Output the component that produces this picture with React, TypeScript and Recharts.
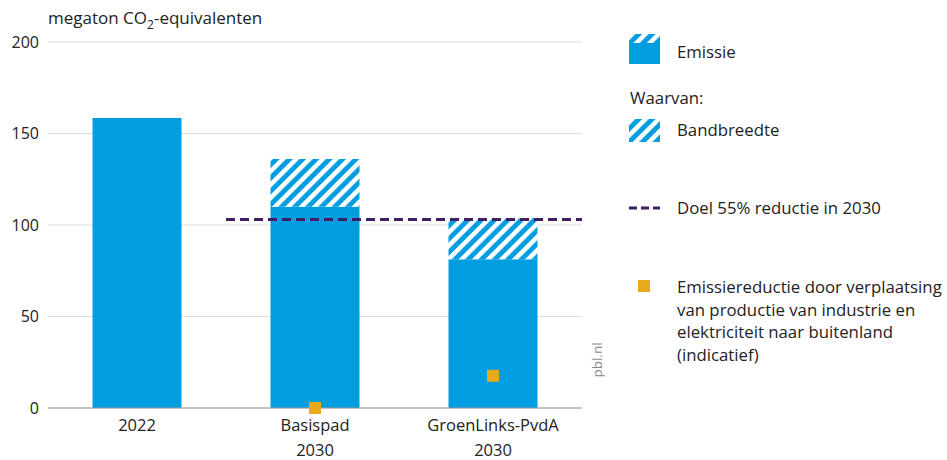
import React from "react";
import {
  ComposedChart,
  Bar,
  Scatter,
  XAxis,
  YAxis,
  CartesianGrid,
  ReferenceLine,
} from "recharts";

const categories = ["2022", "Basispad", "GroenLinks-PvdA"];
const categorySubLabels = ["", "2030", "2030"];
const emissieBase = [158.5, 110, 81.3];
const bandbreedte = [0, 26, 22.5];
const verplaatsing: (number | null)[] = [null, 0, 17.6];
const doelValue = 103;
const doelFromCategory = 1;
const yTicks = [0, 50, 100, 150, 200];

const BLUE = "#009EE0";
const ORANGE = "#E8A91B";
const PURPLE = "#3F1E63";
const TEXT = "#222222";
const FONT = "'Open Sans', 'Noto Sans', sans-serif";

// category slots on a numeric axis: slot i spans [i, i+1], centre at i + 0.5
const data = categories.map((c, i) => ({
  name: c,
  slot: i + 0.5,
  base: emissieBase[i],
  band: bandbreedte[i],
  shift: verplaatsing[i],
}));
const slotTicks = data.map((d) => d.slot);

const XTick = (props: any) => {
  const { x, y, index } = props;
  const main = categories[index];
  const sub = categorySubLabels[index];
  return (
    <g transform={`translate(${x},${y})`}>
      <text x={0} y={0} dy={15} textAnchor="middle" fill={TEXT} fontSize={16.5} fontFamily={FONT}>
        {main}
      </text>
      {sub ? (
        <text x={0} y={0} dy={40} textAnchor="middle" fill={TEXT} fontSize={16.5} fontFamily={FONT}>
          {sub}
        </text>
      ) : null}
    </g>
  );
};

const SquareShape = (props: any) => {
  const { cx, cy } = props;
  if (cx == null || cy == null || isNaN(cy)) return null;
  return <rect x={cx - 6} y={cy - 6} width={12} height={12} fill={ORANGE} />;
};

const HatchSwatch = ({ w, h, full }: { w: number; h: number; full?: boolean }) => (
  <svg width={w} height={h} style={{ display: "block" }}>
    <defs>
      <pattern id={`lg-hatch-${full ? "a" : "b"}`} patternUnits="userSpaceOnUse" width={9.4} height={9.4} patternTransform="rotate(45)">
        <rect x={0} y={0} width={9.4} height={9.4} fill={BLUE} />
        <rect x={0} y={0} width={4.5} height={9.4} fill="#ffffff" />
      </pattern>
    </defs>
    {full ? (
      <>
        <rect x={0} y={0} width={w} height={9} fill={`url(#lg-hatch-a)`} />
        <rect x={0} y={9} width={w} height={h - 9} fill={BLUE} />
      </>
    ) : (
      <rect x={0} y={0} width={w} height={h} fill={`url(#lg-hatch-b)`} />
    )}
  </svg>
);

const legendText: React.CSSProperties = {
  position: "absolute",
  left: 677,
  fontFamily: FONT,
  fontSize: 16.8,
  color: TEXT,
  lineHeight: "22.5px",
  whiteSpace: "nowrap",
};

export default function App() {
  return (
    <div style={{ position: "absolute", left: 0, top: 0, width: 947, height: 460, background: "#fff" }}>
      <ComposedChart
        width={947}
        height={460}
        data={data}
        margin={{ top: 42, right: 365, bottom: 22, left: 0 }}
        barCategoryGap="25%"
      >
        <defs>
          <pattern id="hatch" patternUnits="userSpaceOnUse" width={9.4} height={9.4} patternTransform="rotate(45)">
            <rect x={0} y={0} width={9.4} height={9.4} fill={BLUE} />
            <rect x={0} y={0} width={4.5} height={9.4} fill="#ffffff" />
          </pattern>
        </defs>
        <CartesianGrid vertical={false} stroke="#dcdcdc" strokeWidth={1} />
        <XAxis
          dataKey="slot"
          type="number"
          domain={[0, categories.length]}
          allowDataOverflow
          ticks={slotTicks}
          height={30}
          tick={<XTick />}
          tickLine={false}
          axisLine={{ stroke: "#9a9a9a", strokeWidth: 1 }}
          interval={0}
        />
        <YAxis
          domain={[0, 200]}
          ticks={yTicks}
          width={48}
          axisLine={false}
          tickLine={false}
          tickSize={0}
          tickMargin={9}
          tick={{ fill: TEXT, fontSize: 16, fontFamily: FONT }}
        />
        <Bar dataKey="base" stackId="e" fill={BLUE} isAnimationActive={false} />
        <Bar dataKey="band" stackId="e" fill="url(#hatch)" isAnimationActive={false} />
        <ReferenceLine
          segment={[
            { x: doelFromCategory, y: doelValue },
            { x: categories.length, y: doelValue },
          ]}
          stroke={PURPLE}
          strokeWidth={3}
          strokeDasharray="9 5"
          ifOverflow="visible"
        />
        <Scatter dataKey="shift" shape={<SquareShape />} isAnimationActive={false} />
        <text x={48} y={24} fill={TEXT} fontSize={17} fontFamily={FONT}>
          megaton CO
          <tspan dy={5} fontSize={12}>2</tspan>
          <tspan dy={-5}>-equivalenten</tspan>
        </text>
        <text
          x={0}
          y={0}
          transform="translate(602,360) rotate(-90)"
          textAnchor="middle"
          fill="#8a8a8a"
          fontSize={13.5}
          fontFamily={FONT}
        >
          pbl.nl
        </text>
      </ComposedChart>

      <div style={{ position: "absolute", left: 629, top: 34 }}>
        <HatchSwatch w={31} h={30} full />
      </div>
      <div style={{ ...legendText, top: 41 }}>Emissie</div>

      <div style={{ ...legendText, left: 630, top: 87 }}>Waarvan:</div>

      <div style={{ position: "absolute", left: 629, top: 119 }}>
        <HatchSwatch w={31} h={23} />
      </div>
      <div style={{ ...legendText, top: 119 }}>Bandbreedte</div>

      <svg style={{ position: "absolute", left: 629, top: 204 }} width={32} height={8}>
        <line x1={0} y1={4} x2={31} y2={4} stroke={PURPLE} strokeWidth={3} strokeDasharray="8 4" />
      </svg>
      <div style={{ ...legendText, top: 197 }}>Doel 55% reductie in 2030</div>

      <div style={{ position: "absolute", left: 638, top: 280, width: 12, height: 12, background: ORANGE }} />
      <div style={{ ...legendText, top: 276 }}>
        Emissiereductie door verplaatsing
        <br />
        van productie van industrie en
        <br />
        elektriciteit naar buitenland
        <br />
        (indicatief)
      </div>
    </div>
  );
}
